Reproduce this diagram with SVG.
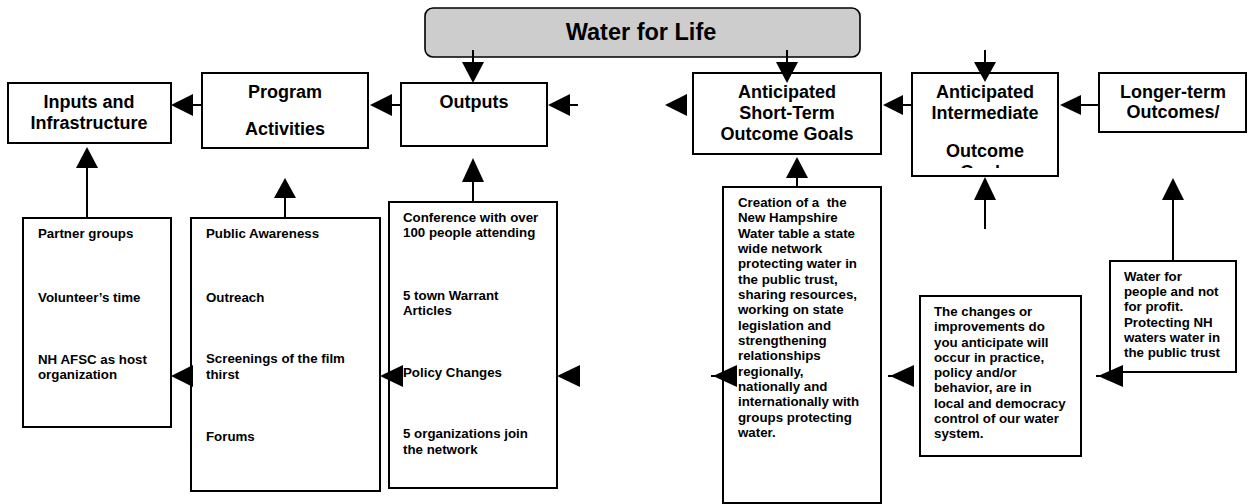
<svg xmlns="http://www.w3.org/2000/svg" width="1251" height="504" viewBox="0 0 1251 504">
<style>
.box{fill:#fff;stroke:#000;stroke-width:2}
.title{fill:#cdcdcd;stroke:#000;stroke-width:1.6}
.h{font-family:"Liberation Sans",Arial,sans-serif;font-weight:bold;font-size:18px;text-anchor:middle;fill:#000}
.t{font-family:"Liberation Sans",Arial,sans-serif;font-weight:bold;font-size:13.3px;fill:#000}
.ln{stroke:#000;stroke-width:2;fill:none}
.hd{fill:#000}
</style>
<defs>
<clipPath id="clipInter"><rect x="912" y="73" width="146" height="95"/></clipPath>
</defs>
<g id="title">
<rect class="title" x="425" y="8" width="435" height="49" rx="8"/>
<text class="h" x="641" y="40" style="font-size:23.5px">Water for Life</text>
</g>
<g id="inputs">
<rect class="box" x="8" y="83" width="163" height="60"/>
<text class="h" x="89" y="108">Inputs and</text>
<text class="h" x="89" y="129">Infrastructure</text>
</g>
<g id="activities">
<rect class="box" x="202" y="73" width="166" height="75"/>
<text class="h" x="285" y="98">Program</text>
<text class="h" x="285" y="135">Activities</text>
</g>
<g id="outputs">
<rect class="box" x="401" y="83" width="146" height="63"/>
<text class="h" x="474" y="108">Outputs</text>
</g>
<g id="shortterm">
<rect class="box" x="693" y="73" width="188" height="81"/>
<text class="h" x="787" y="98">Anticipated</text>
<text class="h" x="787" y="119">Short-Term</text>
<text class="h" x="787" y="140">Outcome Goals</text>
</g>
<g id="intermediate">
<rect class="box" x="912" y="73" width="146" height="103"/>
<g clip-path="url(#clipInter)">
<text class="h" x="985" y="98">Anticipated</text>
<text class="h" x="985" y="119">Intermediate</text>
<text class="h" x="985" y="157">Outcome</text>
<text class="h" x="985" y="178">Goals</text>
</g>
</g>
<g id="longerterm">
<rect class="box" x="1099" y="73" width="147" height="59"/>
<text class="h" x="1173" y="98">Longer-term</text>
<text class="h" x="1173" y="118">Outcomes/</text>
</g>
<g id="inputs-list">
<rect class="box" x="23" y="218" width="148" height="209"/>
<text class="t" x="38" y="238">Partner groups</text>
<text class="t" x="38" y="302">Volunteer’s time</text>
<text class="t" x="38" y="364">NH AFSC as host</text>
<text class="t" x="38" y="379">organization</text>
</g>
<g id="activities-list">
<rect class="box" x="191" y="218" width="189" height="273"/>
<text class="t" x="206" y="238">Public Awareness</text>
<text class="t" x="206" y="302">Outreach</text>
<text class="t" x="206" y="363">Screenings of the film</text>
<text class="t" x="206" y="379">thirst</text>
<text class="t" x="206" y="441">Forums</text>
</g>
<g id="outputs-list">
<rect class="box" x="389" y="202" width="168" height="286"/>
<text class="t" x="403" y="222">Conference with over</text>
<text class="t" x="403" y="237">100 people attending</text>
<text class="t" x="403" y="300">5 town Warrant</text>
<text class="t" x="403" y="315">Articles</text>
<text class="t" x="403" y="377">Policy Changes</text>
<text class="t" x="403" y="438">5 organizations join</text>
<text class="t" x="403" y="454">the network</text>
</g>
<g id="shortterm-list">
<rect class="box" x="723" y="187" width="158" height="316"/>
<text class="t" x="738" y="207">Creation of a &#160;the</text>
<text class="t" x="738" y="222.3">New Hampshire</text>
<text class="t" x="738" y="237.7">Water table a state</text>
<text class="t" x="738" y="253">wide network</text>
<text class="t" x="738" y="268.3">protecting water in</text>
<text class="t" x="738" y="283.7">the public trust,</text>
<text class="t" x="738" y="299">sharing resources,</text>
<text class="t" x="738" y="314.3">working on state</text>
<text class="t" x="738" y="329.7">legislation and</text>
<text class="t" x="738" y="345">strengthening</text>
<text class="t" x="738" y="360.3">relationships</text>
<text class="t" x="738" y="375.7">regionally,</text>
<text class="t" x="738" y="391">nationally and</text>
<text class="t" x="738" y="406.3">internationally with</text>
<text class="t" x="738" y="421.7">groups protecting</text>
<text class="t" x="738" y="437">water.</text>
</g>
<g id="intermediate-list">
<rect class="box" x="920" y="296" width="161" height="160"/>
<text class="t" x="934" y="316">The changes or</text>
<text class="t" x="934" y="331.3">improvements do</text>
<text class="t" x="934" y="346.5">you anticipate will</text>
<text class="t" x="934" y="361.8">occur in practice,</text>
<text class="t" x="934" y="377">policy and/or</text>
<text class="t" x="934" y="392.3">behavior, are in</text>
<text class="t" x="934" y="407.5">local and democracy</text>
<text class="t" x="934" y="422.8">control of our water</text>
<text class="t" x="934" y="438">system.</text>
</g>
<g id="longerterm-list">
<rect class="box" x="1110" y="261" width="126" height="111"/>
<text class="t" x="1124" y="281">Water for</text>
<text class="t" x="1124" y="296.2">people and not</text>
<text class="t" x="1124" y="311.4">for profit.</text>
<text class="t" x="1124" y="326.6">Protecting NH</text>
<text class="t" x="1124" y="341.8">waters water in</text>
<text class="t" x="1124" y="357">the public trust</text>
</g>
<g id="connectors">
<line class="ln" x1="192" y1="105" x2="202" y2="105"/>
<polygon class="hd" points="171,105 193,94 193,116"/>
<line class="ln" x1="391" y1="105" x2="401" y2="105"/>
<polygon class="hd" points="370,105 392,94 392,116"/>
<line class="ln" x1="569" y1="105" x2="578" y2="105"/>
<polygon class="hd" points="548,105 570,94 570,116"/>
<polygon class="hd" points="665,105 687,94 687,116"/>
<line class="ln" x1="902" y1="105" x2="912" y2="105"/>
<polygon class="hd" points="883,105 903,95 903,115"/>
<line class="ln" x1="1080" y1="105" x2="1099" y2="105"/>
<polygon class="hd" points="1060,105 1081,95 1081,115"/>
<line class="ln" x1="473" y1="50" x2="473" y2="63"/>
<polygon class="hd" points="462,62 484,62 473,83"/>
<line class="ln" x1="787" y1="50" x2="787" y2="63"/>
<polygon class="hd" points="776,62 798,62 787,83"/>
<line class="ln" x1="985" y1="50" x2="985" y2="63"/>
<polygon class="hd" points="974,62 996,62 985,82"/>
<line class="ln" x1="87" y1="167" x2="87" y2="218"/>
<polygon class="hd" points="87,147 76,168 98,168"/>
<line class="ln" x1="285" y1="197" x2="285" y2="218"/>
<polygon class="hd" points="285,178 274,198 296,198"/>
<line class="ln" x1="473" y1="181" x2="473" y2="202"/>
<polygon class="hd" points="473,158 462,182 484,182"/>
<line class="ln" x1="797" y1="177" x2="797" y2="187"/>
<polygon class="hd" points="797,157 786,178 808,178"/>
<line class="ln" x1="985" y1="199" x2="985" y2="229"/>
<polygon class="hd" points="985,177 974,200 996,200"/>
<line class="ln" x1="1173" y1="199" x2="1173" y2="261"/>
<polygon class="hd" points="1173,178 1162,200 1184,200"/>
<polygon class="hd" points="171,376 193,365 193,387"/>
<polygon class="hd" points="380,376 403,365 403,387"/>
<polygon class="hd" points="557,376 580,365 580,387"/>
<line class="ln" x1="711" y1="376" x2="715" y2="376"/>
<polygon class="hd" points="713,376 737,365 737,387"/>
<line class="ln" x1="888" y1="376" x2="892" y2="376"/>
<polygon class="hd" points="890,376 914,365 914,387"/>
<line class="ln" x1="1096" y1="376" x2="1100" y2="376"/>
<polygon class="hd" points="1098,376 1123,365 1123,387"/>
</g>
</svg>
